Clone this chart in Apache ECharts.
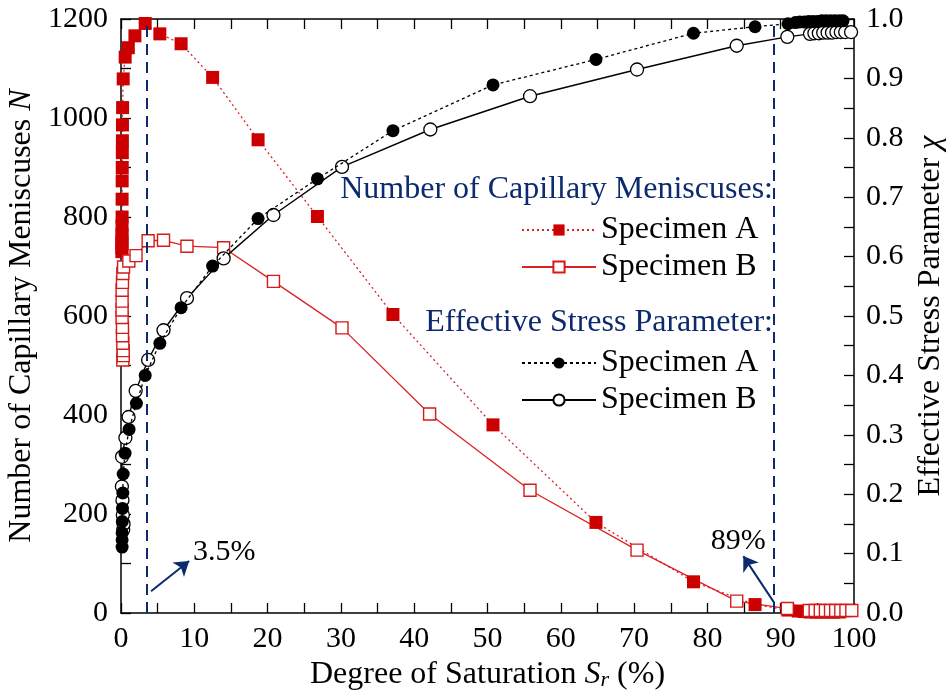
<!DOCTYPE html>
<html>
<head>
<meta charset="utf-8">
<script src="https://cdn.jsdelivr.net/npm/echarts@6/dist/echarts.min.js"></script>
<style>
  html, body { margin: 0; padding: 0; background: #ffffff; }
  #chart { width: 948px; height: 693px; }
</style>
</head>
<body>
<div id="chart"></div>
<script>
// Degree of saturation Sr (%) and number of capillary meniscuses N, specimen A
const srNA = [0.12, 0.12, 0.13, 0.13, 0.14, 0.14, 0.15, 0.15, 0.16, 0.17, 0.18, 0.19, 0.2, 0.22,
  0.3, 0.57, 1.0, 1.9,
  3.3, 5.3, 8.2, 12.5, 18.7, 26.8, 37.1, 50.75, 64.8, 78.1, 86.5, 91.0,
  92.4, 93.2, 94.0, 94.8, 95.6, 96.4, 97.2, 98.0];
const nA = [730, 738, 746, 755, 765, 782, 800, 836, 873, 900, 930, 954, 986, 1021,
  1079, 1123, 1142, 1166,
  1191, 1170, 1150, 1082, 956, 801, 603, 380, 183, 63, 17, 6,
  4, 3, 2, 2, 2, 2, 2, 2];

// Number of capillary meniscuses, specimen B
const srNB = [0.25, 0.3, 0.3, 0.25, 0.2, 0.2, 0.15, 0.15, 0.15, 0.15, 0.2, 0.25, 0.35, 1.07, 2.05, 3.7,
  5.8, 9.0, 14.0, 20.8, 30.15, 42.1, 55.8, 70.4, 84.0, 90.9,
  93.9, 94.7, 95.4, 96.1, 96.8, 97.5, 98.2, 98.9, 99.7];
const nB = [511, 520, 530, 545, 560, 577, 597, 612, 630, 652, 668, 686, 699, 711, 722, 752,
  753, 741, 738, 670, 576, 402, 248, 127, 24, 9,
  5, 5, 5, 5, 5, 5, 5, 5, 5];

// Effective stress parameter chi, specimen A
const srChiA = [0.15, 0.15, 0.15, 0.18, 0.2, 0.25, 0.3, 0.55, 1.1, 2.1,
  3.3, 5.3, 8.2, 12.5, 18.7, 26.8, 37.1, 50.75, 64.8, 78.1, 86.5, 91.0,
  92.0, 92.6, 93.2, 93.8, 94.4, 95.0, 95.6, 96.2, 96.8, 97.4, 98.0, 98.5];
const chiA = [0.111, 0.123, 0.135, 0.154, 0.176, 0.202, 0.234, 0.269, 0.309, 0.353,
  0.400, 0.454, 0.514, 0.584, 0.664, 0.731, 0.812, 0.889, 0.932, 0.976, 0.987, 0.992,
  0.994, 0.995, 0.995, 0.996, 0.996, 0.996, 0.997, 0.997, 0.997, 0.997, 0.997, 0.997];

// Effective stress parameter chi, specimen B
const srChiB = [0.3, 0.35, 0.25, 0.2, 0.12, 0.14, 0.6, 1.04, 2.0, 3.7,
  5.8, 9.0, 14.0, 20.8, 30.15, 42.2, 55.8, 70.4, 84.0, 90.9,
  94.0, 94.6, 95.2, 95.8, 96.4, 97.0, 97.6, 98.2, 98.8, 99.6];
const chiB = [0.140, 0.150, 0.165, 0.190, 0.213, 0.263, 0.295, 0.330, 0.374, 0.426,
  0.476, 0.530, 0.597, 0.670, 0.751, 0.814, 0.870, 0.915, 0.955, 0.970,
  0.975, 0.976, 0.976, 0.977, 0.977, 0.977, 0.978, 0.978, 0.978, 0.978];

// Threshold saturations marked by dashed lines
const thresholds = [3.5, 89];

// Annotation arrows (tail, head) and label anchors, in data units (Sr, N)
const notes = [
  { text: '3.5%', tail: [4.1, 44], head: [9.3, 105], at: [14.1, 123] },
  { text: '89%', tail: [89.1, 21], head: [84.9, 115], at: [84.2, 145] }
];

const FONT = '"Liberation Serif", "Times New Roman", serif';
const RED = '#cc0000';
const RED_LINE = '#dd2222';
const NAVY = '#0d2a6e';

const zip = (xs, ys) => xs.map((x, i) => [x, ys[i]]);

const chart = echarts.init(document.getElementById('chart'), null, { renderer: 'canvas' });

const axisLine = { show: true, onZero: false, lineStyle: { color: '#000', width: 1.5 } };
const axisTick = { show: true, inside: true, length: 10, lineStyle: { color: '#000', width: 1.3 } };
const tickFont = { color: '#000', fontFamily: FONT, fontSize: 30 };

function legendFor(seriesName, label, top) {
  return {
    data: [seriesName],
    left: 521,
    top: top,
    padding: 0,
    orient: 'horizontal',
    selectedMode: false,
    itemWidth: 74,
    itemHeight: 14,
    formatter: () => label,
    textStyle: { color: '#000', fontFamily: FONT, fontSize: 32, lineHeight: 32 }
  };
}

const option = {
  animation: false,
  backgroundColor: '#ffffff',
  grid: { left: 121, right: 94, top: 19, bottom: 80, containLabel: false, outerBoundsMode: 'none' },
  xAxis: [
    {
      type: 'value', position: 'bottom', min: 0, max: 100, interval: 5,
      axisLine, axisTick,
      splitLine: { show: false },
      axisLabel: Object.assign({ margin: 11, formatter: v => (v % 10 === 0 ? String(v) : '') }, tickFont),
      name: 'Degree of Saturation {i|S}{sub|r} (%)',
      nameLocation: 'middle',
      nameGap: 44,
      nameTextStyle: {
        color: '#000', fontFamily: FONT, fontSize: 32,
        rich: {
          i: { fontStyle: 'italic', fontFamily: FONT, fontSize: 32, color: '#000' },
          sub: { fontStyle: 'italic', fontFamily: FONT, fontSize: 22, color: '#000', verticalAlign: 'bottom', lineHeight: 10 }
        }
      }
    },
    {
      type: 'value', position: 'top', min: 0, max: 100, interval: 5,
      axisLine, axisTick,
      splitLine: { show: false },
      axisLabel: { show: false }
    }
  ],
  yAxis: [
    {
      type: 'value', position: 'left', min: 0, max: 1200, interval: 100,
      axisLine, axisTick,
      splitLine: { show: false },
      axisLabel: Object.assign({ margin: 13, formatter: v => (v % 200 === 0 ? String(v) : '') }, tickFont),
      name: 'Number of Capillary Meniscuses {i|N}',
      nameLocation: 'middle',
      nameGap: 75,
      nameTextStyle: {
        color: '#000', fontFamily: FONT, fontSize: 32,
        rich: { i: { fontStyle: 'italic', fontFamily: FONT, fontSize: 32, color: '#000' } }
      }
    },
    {
      type: 'value', position: 'right', min: 0, max: 1, interval: 0.05,
      axisLine, axisTick,
      splitLine: { show: false },
      axisLabel: Object.assign({
        margin: 12,
        formatter: v => (Math.round(v * 100) % 10 === 0 ? v.toFixed(1) : '')
      }, tickFont),
      name: 'Effective Stress Parameter {i|χ}',
      nameLocation: 'middle',
      nameGap: 61,
      nameTextStyle: {
        color: '#000', fontFamily: FONT, fontSize: 32,
        rich: { i: { fontStyle: 'italic', fontFamily: FONT, fontSize: 32, color: '#000' } }
      }
    }
  ],
  legend: [
    legendFor('meniscusA', 'Specimen A', 214),
    legendFor('meniscusB', 'Specimen B', 251),
    legendFor('chiA', 'Specimen A', 347),
    legendFor('chiB', 'Specimen B', 384)
  ],
  graphic: [
    {
      type: 'text', x: 773, y: 190, silent: true,
      style: {
        text: 'Number of Capillary Meniscuses:', fill: NAVY,
        font: '32px ' + FONT, align: 'right', verticalAlign: 'middle',
        textAlign: 'right', textVerticalAlign: 'middle'
      }
    },
    {
      type: 'text', x: 773, y: 323, silent: true,
      style: {
        text: 'Effective Stress Parameter:', fill: NAVY,
        font: '32px ' + FONT, align: 'right', verticalAlign: 'middle',
        textAlign: 'right', textVerticalAlign: 'middle'
      }
    }
  ],
  series: [
    {
      name: 'meniscusA', type: 'line', xAxisIndex: 0, yAxisIndex: 0,
      data: zip(srNA, nA),
      symbol: 'rect', symbolSize: 13, clip: false, z: 3,
      itemStyle: { color: RED, borderColor: RED, borderWidth: 0 },
      lineStyle: { color: RED_LINE, width: 1.3, type: [2, 3] },
      emphasis: { disabled: true },
      markLine: {
        silent: true, symbol: ['none', 'none'], animation: false,
        label: { show: false },
        lineStyle: { color: NAVY, width: 2, type: [11, 7] },
        data: thresholds.map(v => ({ xAxis: v }))
      }
    },
    {
      name: 'meniscusB', type: 'line', xAxisIndex: 0, yAxisIndex: 0,
      data: zip(srNB, nB),
      symbol: 'rect', symbolSize: 12, clip: false, z: 3,
      itemStyle: { color: '#ffffff', borderColor: '#d61a1a', borderWidth: 1.4 },
      lineStyle: { color: RED_LINE, width: 1.3, type: 'solid' },
      emphasis: { disabled: true },
      markPoint: {
        silent: true, animation: false,
        symbol: 'circle', symbolSize: 1,
        itemStyle: { color: 'rgba(0,0,0,0)' },
        label: {
          show: true, position: 'inside', formatter: p => p.name,
          color: '#000', fontFamily: FONT, fontSize: 30
        },
        data: notes.map(n => ({ name: n.text, coord: n.at }))
      }
    },
    {
      name: 'chiB', type: 'line', xAxisIndex: 0, yAxisIndex: 1,
      data: zip(srChiB, chiB),
      symbol: 'circle', symbolSize: 13, clip: false, z: 4,
      itemStyle: { color: '#ffffff', borderColor: '#000000', borderWidth: 1.3 },
      lineStyle: { color: '#000', width: 1.4, type: 'solid' },
      emphasis: { disabled: true }
    },
    {
      name: 'chiA', type: 'line', xAxisIndex: 0, yAxisIndex: 1,
      data: zip(srChiA, chiA),
      symbol: 'circle', symbolSize: 13, clip: false, z: 5,
      itemStyle: { color: '#000000', borderColor: '#000000', borderWidth: 0 },
      lineStyle: { color: '#000', width: 1.3, type: [3, 3] },
      emphasis: { disabled: true }
    },
    {
      // annotation arrows pointing at the threshold labels
      name: 'arrows', type: 'lines', coordinateSystem: 'cartesian2d',
      xAxisIndex: 0, yAxisIndex: 0, silent: true, z: 6,
      symbol: ['none', 'arrow'], symbolSize: 14,
      lineStyle: { color: NAVY, width: 2, opacity: 1, curveness: 0 },
      data: notes.map(n => ({ coords: [n.tail, n.head] }))
    }
  ]
};

chart.setOption(option);
</script>
</body>
</html>
